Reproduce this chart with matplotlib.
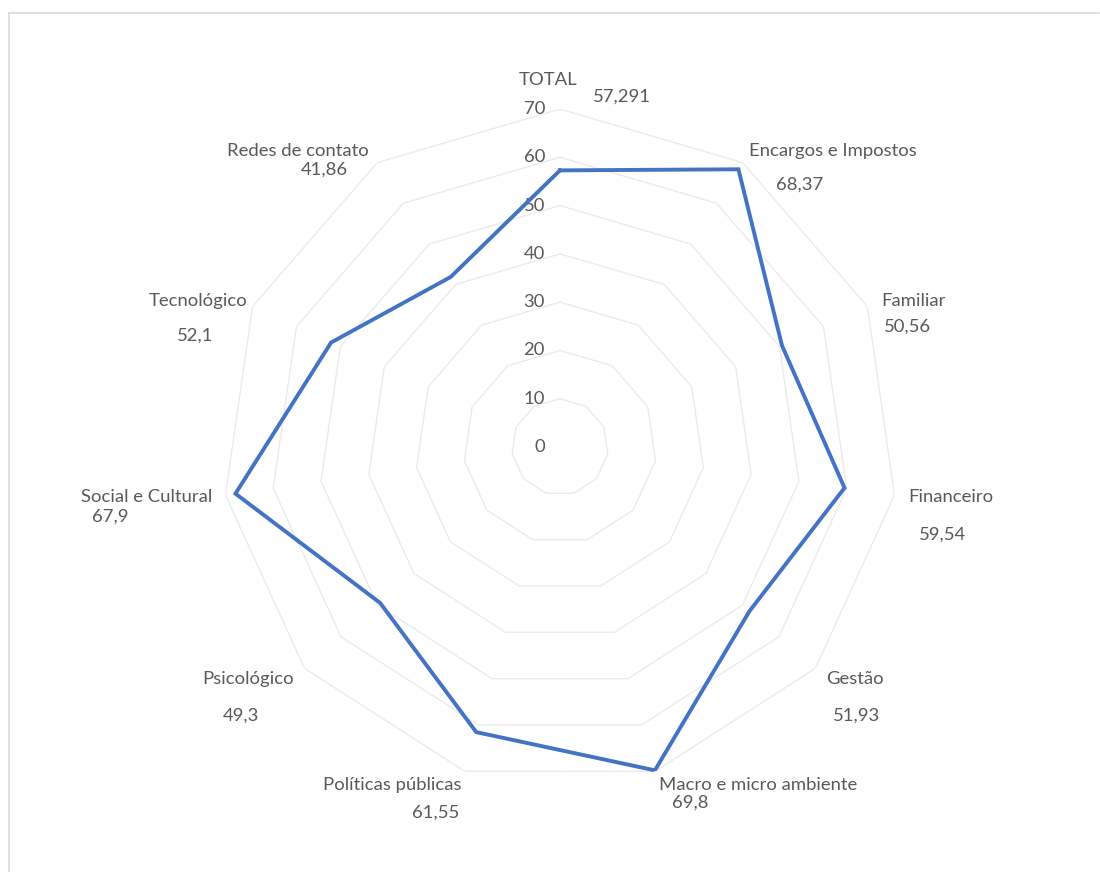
import numpy as np
import matplotlib.pyplot as plt
from matplotlib.lines import Line2D
from matplotlib.transforms import offset_copy

# categories and scores
categories = ["TOTAL", "Encargos e Impostos", "Familiar", "Financeiro", "Gestão",
              "Macro e micro ambiente", "Políticas públicas", "Psicológico",
              "Social e Cultural", "Tecnológico", "Redes de contato"]
values = [57.291, 68.37, 50.56, 59.54, 51.93, 69.8, 61.55, 49.3, 67.9, 52.1, 41.86]
ring_levels = [0, 10, 20, 30, 40, 50, 60, 70]

# label placement (pixel centres): category name, then value
name_pos = [(548, 80), (833, 151), (913, 301), (951, 497), (855, 679), (758, 785),
            (392, 785), (248, 679), (147, 497), (198, 301), (298, 151)]
value_pos = [(622, 97), (800, 185), (907, 327), (942, 535), (857, 716), (690, 803),
             (436, 813), (241, 716), (110, 517), (195, 336), (324, 170)]

W, H = 1100, 872
TEXT = "#595959"
GRID = "#EBEBEB"
LINE = "#4472C4"
FS = 13.3
plt.rcParams["font.family"] = ["Lato", "DejaVu Sans"]

fig = plt.figure(figsize=(W / 100, H / 100), dpi=100)
ax = fig.add_axes([0.2018, 0.0998, 0.6145, 0.7752], projection="polar")
ax.set_theta_zero_location("N")
ax.set_theta_direction(-1)
ax.set_ylim(0, 70)
ax.grid(False)
ax.set_xticks([])
ax.set_yticks([])
ax.spines["polar"].set_visible(False)
ax.patch.set_alpha(0)

n = len(categories)
theta = np.linspace(0, 2 * np.pi, n, endpoint=False)
theta_c = np.append(theta, theta[0])

# polygon gridlines
for r in ring_levels[1:]:
    ax.plot(theta_c, [r] * (n + 1), color=GRID, lw=1.0, zorder=1)

# scale labels along the TOTAL axis
lbl_tr = offset_copy(ax.transData, fig=fig, x=-15, y=0, units="dots")
for r in ring_levels:
    ax.text(0, r, str(r), transform=lbl_tr, ha="right", va="center",
            fontsize=FS, color=TEXT)

vals_c = np.append(values, values[0])
ax.plot(theta_c, vals_c, color=LINE, lw=2.8, solid_joinstyle="miter", zorder=3)

for name, v, (nx, ny), (vx, vy) in zip(categories, values, name_pos, value_pos):
    fig.text(nx / W, 1 - ny / H, name, ha="center", va="center",
             fontsize=FS, color=TEXT)
    fig.text(vx / W, 1 - vy / H, str(v).replace(".", ","), ha="center",
             va="center", fontsize=FS, color=TEXT)

# chart area border (left and top edges)
fig.add_artist(Line2D([8.5 / W, 8.5 / W], [0, 1 - 13 / H], color="#D9D9D9", lw=1.2))
fig.add_artist(Line2D([8.5 / W, 0.9995], [1 - 13 / H, 1 - 13 / H], color="#D9D9D9", lw=1.2))

fig.savefig("out.png", dpi=100, facecolor="white")
